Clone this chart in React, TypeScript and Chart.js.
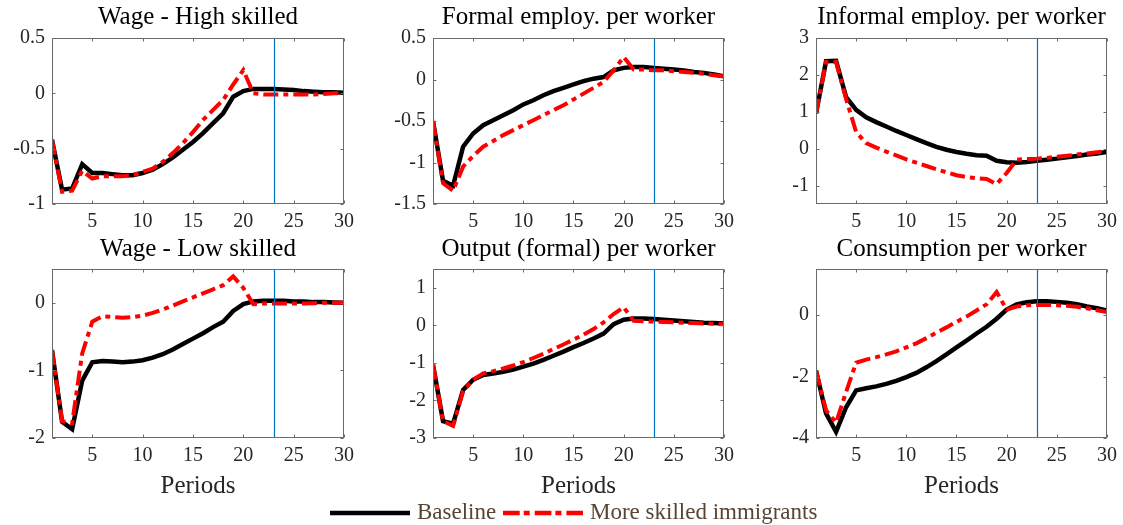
import React, { useEffect, useRef } from 'react';
import { Chart, registerables } from 'chart.js';

Chart.register(...registerables);

// ---------- data ----------
const periods = [1, 2, 3, 4, 5, 6, 7, 8, 9, 10, 11, 12, 13, 14, 15, 16, 17, 18, 19, 20, 21, 22, 23, 24, 25, 26, 27, 28, 29, 30];
const xTicks = [5, 10, 15, 20, 25, 30];
const markerPeriod = 23;

const titles = [
  'Wage - High skilled',
  'Formal employ. per worker',
  'Informal employ. per worker',
  'Wage - Low skilled',
  'Output (formal) per worker',
  'Consumption per worker',
];

const wageHighBase = [-0.42, -0.87, -0.86, -0.64, -0.72, -0.72, -0.73, -0.74, -0.74, -0.72, -0.69, -0.64, -0.58, -0.51, -0.44, -0.36, -0.27, -0.18, -0.03, 0.02, 0.04, 0.04, 0.04, 0.035, 0.03, 0.02, 0.015, 0.01, 0.01, 0.005];
const wageHighAlt = [-0.42, -0.89, -0.88, -0.70, -0.77, -0.75, -0.75, -0.75, -0.74, -0.71, -0.68, -0.62, -0.54, -0.45, -0.35, -0.24, -0.15, -0.06, 0.08, 0.21, 0.0, -0.01, -0.01, -0.01, -0.01, -0.01, -0.01, -0.005, 0, 0];

const formalBase = [-0.5, -1.22, -1.28, -0.81, -0.65, -0.55, -0.49, -0.43, -0.37, -0.30, -0.25, -0.19, -0.14, -0.10, -0.06, -0.02, 0.01, 0.03, 0.11, 0.14, 0.15, 0.15, 0.14, 0.13, 0.12, 0.11, 0.09, 0.08, 0.06, 0.04];
const formalAlt = [-0.5, -1.25, -1.34, -1.05, -0.92, -0.81, -0.74, -0.67, -0.61, -0.55, -0.49, -0.43, -0.37, -0.31, -0.24, -0.17, -0.10, -0.03, 0.11, 0.27, 0.12, 0.12, 0.11, 0.11, 0.10, 0.09, 0.08, 0.07, 0.05, 0.04];

const informalBase = [0.95, 2.37, 2.38, 1.40, 1.05, 0.85, 0.72, 0.60, 0.48, 0.37, 0.26, 0.15, 0.05, -0.03, -0.09, -0.14, -0.18, -0.19, -0.33, -0.37, -0.38, -0.36, -0.33, -0.30, -0.27, -0.23, -0.20, -0.16, -0.13, -0.09];
const informalAlt = [0.95, 2.35, 2.35, 1.35, 0.45, 0.15, 0.03, -0.08, -0.18, -0.29, -0.38, -0.47, -0.56, -0.64, -0.72, -0.77, -0.80, -0.82, -0.96, -0.66, -0.30, -0.28, -0.27, -0.25, -0.22, -0.19, -0.16, -0.13, -0.10, -0.07];

const wageLowBase = [-0.70, -1.76, -1.87, -1.15, -0.88, -0.86, -0.87, -0.88, -0.87, -0.85, -0.81, -0.76, -0.69, -0.61, -0.53, -0.45, -0.36, -0.28, -0.12, -0.02, 0.02, 0.03, 0.03, 0.03, 0.02, 0.02, 0.01, 0.01, 0.005, 0];
const wageLowAlt = [-0.70, -1.75, -1.78, -0.75, -0.28, -0.20, -0.21, -0.22, -0.21, -0.19, -0.15, -0.10, -0.04, 0.02, 0.08, 0.14, 0.20, 0.26, 0.39, 0.22, -0.02, -0.01, -0.01, -0.01, -0.01, -0.01, -0.005, 0, 0, 0];

const outputBase = [-1.05, -2.55, -2.62, -1.72, -1.45, -1.32, -1.28, -1.24, -1.18, -1.10, -1.02, -0.92, -0.81, -0.70, -0.58, -0.47, -0.35, -0.22, 0.03, 0.15, 0.18, 0.18, 0.17, 0.15, 0.13, 0.11, 0.09, 0.07, 0.06, 0.05];
const outputAlt = [-1.05, -2.55, -2.68, -1.75, -1.45, -1.28, -1.22, -1.15, -1.07, -0.98, -0.87, -0.76, -0.63, -0.51, -0.38, -0.25, -0.10, 0.08, 0.30, 0.48, 0.12, 0.11, 0.10, 0.09, 0.08, 0.07, 0.06, 0.05, 0.04, 0.03];

const consBase = [-1.80, -3.20, -3.80, -3.00, -2.45, -2.38, -2.32, -2.24, -2.14, -2.02, -1.88, -1.70, -1.50, -1.28, -1.05, -0.83, -0.60, -0.38, -0.12, 0.18, 0.35, 0.42, 0.45, 0.45, 0.43, 0.40, 0.35, 0.28, 0.22, 0.15];
const consAlt = [-1.80, -3.10, -3.50, -2.50, -1.55, -1.45, -1.37, -1.28, -1.18, -1.05, -0.92, -0.75, -0.57, -0.40, -0.22, -0.05, 0.15, 0.35, 0.75, 0.18, 0.28, 0.32, 0.33, 0.33, 0.32, 0.30, 0.27, 0.22, 0.16, 0.10];

const yLimits = [[-1, 0.5], [-1.5, 0.5], [-1.5, 3], [-2, 0.5], [-3, 1.5], [-4, 1.5]];
const yTickSets = [
  [-1, -0.5, 0, 0.5],
  [-1.5, -1, -0.5, 0, 0.5],
  [-1, 0, 1, 2, 3],
  [-2, -1, 0],
  [-3, -2, -1, 0, 1],
  [-4, -2, 0],
];
const baseSeries = [wageHighBase, formalBase, informalBase, wageLowBase, outputBase, consBase];
const altSeries = [wageHighAlt, formalAlt, informalAlt, wageLowAlt, outputAlt, consAlt];

const legendLabels = ['Baseline', 'More skilled immigrants'];

// ---------- style ----------
const FONT = '"Liberation Serif", "Times New Roman", serif';
const AXIS = '#262626';
const BOX = '#6a6a6a';
const RED = '#FF0000';
const DASH = [15, 5, 5, 5];

const framePlugin = {
  id: 'frame',
  afterDatasetsDraw(chart: any, _args: any, opts: any) {
    const { ctx, chartArea: a, scales } = chart;
    const xs = scales.x;
    const ys = scales.y;
    ctx.save();
    // marker vertical line
    const vx = Math.round(xs.getPixelForValue(opts.vline)) + 0.5;
    ctx.strokeStyle = '#0072BD';
    ctx.lineWidth = 1.2;
    ctx.beginPath();
    ctx.moveTo(vx, a.top);
    ctx.lineTo(vx, a.bottom);
    ctx.stroke();
    // box
    ctx.strokeStyle = BOX;
    ctx.lineWidth = 1;
    const L = Math.round(a.left) + 0.5;
    const R = Math.round(a.right) - 0.5;
    const T = Math.round(a.top) + 0.5;
    const B = Math.round(a.bottom) - 0.5;
    ctx.strokeRect(L, T, R - L, B - T);
    // inward ticks
    const tl = 3;
    ctx.beginPath();
    xs.ticks.forEach((t: any) => {
      const px = Math.round(xs.getPixelForValue(t.value)) + 0.5;
      ctx.moveTo(px, B); ctx.lineTo(px, B - tl);
      ctx.moveTo(px, T); ctx.lineTo(px, T + tl);
    });
    ys.ticks.forEach((t: any) => {
      const py = Math.round(ys.getPixelForValue(t.value)) + 0.5;
      ctx.moveTo(L, py); ctx.lineTo(L + tl, py);
      ctx.moveTo(R, py); ctx.lineTo(R - tl, py);
    });
    ctx.stroke();
    // title
    ctx.fillStyle = '#000';
    ctx.font = `25px ${FONT}`;
    ctx.textAlign = 'center';
    ctx.textBaseline = 'alphabetic';
    const cx = (a.left + a.right) / 2;
    ctx.fillText(opts.title, cx, a.top - opts.titleGap);
    if (opts.xlabel) {
      ctx.fillStyle = AXIS;
      ctx.fillText(opts.xlabel, cx, a.bottom + 55);
    }
    ctx.restore();
  },
};

const toXY = (vals: number[]) => periods.map((p, i) => ({ x: p, y: vals[i] }));

const YW = 52;
const PR = 16;

type PanelProps = {
  idx: number;
  plotLeft: number;
  plotRight: number;
  canvasTop: number;
  padTop: number;
  plotBottom: number;
  xh: number;
  xlabel?: string;
  titleGap: number;
};

function Panel(p: PanelProps) {
  const ref = useRef<HTMLCanvasElement | null>(null);
  const W = p.plotRight - p.plotLeft + YW + PR;
  const H = p.plotBottom - p.canvasTop + p.xh;
  useEffect(() => {
    if (!ref.current) return;
    const i = p.idx;
    const chart = new Chart(ref.current, {
      type: 'line',
      data: {
        datasets: [
          {
            label: legendLabels[1],
            data: toXY(altSeries[i]),
            borderColor: RED,
            borderWidth: 4,
            borderDash: DASH,
            pointRadius: 0,
            tension: 0,
            order: 0,
          },
          {
            label: legendLabels[0],
            data: toXY(baseSeries[i]),
            borderColor: '#000000',
            borderWidth: 4.5,
            pointRadius: 0,
            tension: 0,
            order: 1,
          },
        ],
      },
      options: {
        responsive: false,
        animation: false,
        events: [],
        devicePixelRatio: 1,
        layout: { padding: { top: p.padTop, right: PR, left: 0, bottom: 0 } },
        plugins: {
          legend: { display: false },
          tooltip: { enabled: false },
          title: { display: false },
          frame: { vline: markerPeriod, title: titles[i], xlabel: p.xlabel, titleGap: p.titleGap },
        } as any,
        scales: {
          x: {
            type: 'linear',
            min: periods[0],
            max: periods[periods.length - 1],
            grid: { display: false, drawTicks: false },
            border: { display: false },
            ticks: {
              font: { family: FONT, size: 20 },
              color: AXIS,
              padding: 6,
              maxRotation: 0,
              autoSkip: false,
              callback: (v: any) => String(v),
            },
            afterBuildTicks: (s: any) => {
              s.ticks = xTicks.map((v) => ({ value: v }));
            },
            afterFit: (s: any) => {
              s.height = p.xh;
            },
          },
          y: {
            type: 'linear',
            min: yLimits[i][0],
            max: yLimits[i][1],
            grid: { display: false, drawTicks: false },
            border: { display: false },
            ticks: {
              font: { family: FONT, size: 20 },
              color: AXIS,
              padding: 7,
              autoSkip: false,
              callback: (v: any) => String(v),
            },
            afterBuildTicks: (s: any) => {
              s.ticks = yTickSets[i].map((v) => ({ value: v }));
            },
            afterFit: (s: any) => {
              s.width = YW;
            },
          },
        },
      },
      plugins: [framePlugin as any],
    });
    return () => chart.destroy();
  }, []);
  return (
    <canvas
      ref={ref}
      width={W}
      height={H}
      style={{ position: 'absolute', left: p.plotLeft - YW, top: p.canvasTop, width: W, height: H }}
    />
  );
}

const colLefts = [52, 433, 816];
const colRights = [344, 724, 1107];

function Legend() {
  return (
    <svg
      width={1123}
      height={30}
      style={{ position: 'absolute', left: 0, top: 498 }}
    >
      <line x1={330} y1={15} x2={410} y2={15} stroke="#000" strokeWidth={4.5} />
      <text x={417} y={21} fontFamily={FONT} fontSize={23} fill="#574433">{legendLabels[0]}</text>
      <line x1={503} y1={15} x2={583} y2={15} stroke={RED} strokeWidth={4.5} strokeDasharray="16.7 4 6 5" />
      <text x={590} y={21} fontFamily={FONT} fontSize={23} fill="#574433">{legendLabels[1]}</text>
    </svg>
  );
}

export default function App() {
  return (
    <div style={{ position: 'absolute', left: 0, top: 0, width: 1123, height: 525, background: '#fff', overflow: 'hidden' }}>
      {[0, 1, 2].map((c) => (
        <Panel
          key={'r1' + c}
          idx={c}
          plotLeft={colLefts[c]}
          plotRight={colRights[c]}
          canvasTop={0}
          padTop={38}
          plotBottom={204}
          xh={26}
          titleGap={14}
        />
      ))}
      {[0, 1, 2].map((c) => (
        <Panel
          key={'r2' + c}
          idx={3 + c}
          plotLeft={colLefts[c]}
          plotRight={colRights[c]}
          canvasTop={230}
          padTop={39}
          plotBottom={438}
          xh={62}
          xlabel="Periods"
          titleGap={13}
        />
      ))}
      <Legend />
    </div>
  );
}
